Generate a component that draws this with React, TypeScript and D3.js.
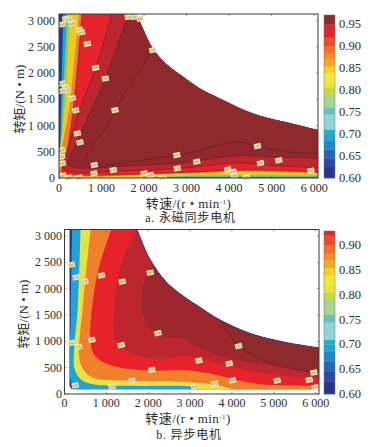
import React from "react";
import * as d3 from "d3";

type P = [number, number];
const FONT = '"Liberation Serif","Noto Sans CJK SC",serif';

const speedTicks = [0, 1000, 2000, 3000, 4000, 5000, 6000];
const torqueTicks = [0, 500, 1000, 1500, 2000, 2500, 3000];

// ---- a. PMSM: efficiency band boundaries (speed r/min, torque N·m)
const limitA: P[] = [[1700, 3300], [1866, 3037], [2203, 2470], [2480, 2200], [2965, 1900], [3320, 1700], [3740, 1530], [4540, 1235], [5320, 1065], [6090, 912]];
const aCyan: P[] = [[100, 3125], [40, 1000], [15, 100], [60, 10], [3000, 8], [6100, 8]];
const aGreen: P[] = [[190, 3125], [70, 1000], [25, 100], [100, 18], [3000, 22], [4200, 26], [6100, 25]];
const aYellow: P[] = [[260, 3125], [150, 1500], [40, 100], [150, 28], [3000, 45], [4200, 60], [6100, 44]];
const aOrange: P[] = [[470, 3125], [270, 1500], [50, 110], [200, 50], [3000, 90], [4200, 120], [6100, 95]];
const aRed: P[] = [[540, 3125], [360, 1500], [170, 420], [70, 120], [250, 70], [3000, 105], [4200, 150], [6100, 108]];
const aCrimson: P[] = [[1240, 3125], [862, 2098], [480, 1293], [230, 600], [110, 180], [400, 110], [1500, 135], [3000, 195], [4200, 290], [5000, 240], [6100, 196]];
const aMaroon: P[] = [[1630, 3125], [1090, 1896], [700, 1200], [400, 650], [220, 250], [500, 190], [1500, 225], [3000, 300], [4200, 430], [5000, 400], [6100, 380]];
const aInner: P[] = [[2297, 2530], [2203, 2435], [1317, 1293], [1160, 1040], [650, 437], [635, 310], [770, 247], [2770, 437], [2965, 456], [4200, 690], [4660, 608], [5320, 500], [6100, 470]];
const aLabels: P[] = [[78, 2929], [157, 3037], [235, 3018], [314, 2942], [478, 2828], [533, 2777], [666, 2555], [862, 2098], [1090, 1896], [1317, 1293], [392, 1287], [314, 1522], [204, 1674], [157, 1724], [70, 1800], [70, 1660], [431, 850], [494, 678], [831, 247], [823, 89], [1278, 152], [2000, 89], [2156, 57], [2430, 13], [2770, 437], [2783, 184], [3238, 311], [86, 44], [220, 6], [470, 6], [63, 406], [63, 530], [78, 280], [1630, 3068], [1772, 3068], [1905, 3037], [2203, 2435], [3969, 165], [4094, 120], [4118, 44], [4400, 13], [4667, 608], [4737, 285], [5169, 336], [5922, 139]];
const aLabelText = ["0.65", "0.70", "0.75", "0.80", "0.85", "0.85", "0.90", "0.93", "0.95", "0.97", "0.90", "0.85", "0.80", "0.75", "0.70", "0.65", "0.93", "0.95", "0.97", "0.93", "0.95", "0.90", "0.85", "0.75", "0.97", "0.93", "0.95", "0.80", "0.85", "0.85", "0.65", "0.70", "0.90", "0.93", "0.95", "0.95", "0.97", "0.93", "0.90", "0.85", "0.75", "0.97", "0.95", "0.95", "0.93"];

// ---- b. induction motor
const limitB: P[] = [[1600, 3350], [1730, 3125], [2032, 2572], [2430, 2128], [2868, 1842], [3227, 1652], [3664, 1429], [4462, 1143], [5258, 985], [6080, 876]];
const bCyan: P[] = [[183, 3125], [150, 1500], [143, 286], [279, 90], [1155, 70], [3000, 70]];
const bYellow: P[] = [[382, 3125], [319, 1683], [223, 730], [239, 476], [398, 273], [757, 175], [1634, 155], [2750, 155], [3100, 130], [3300, 70]];
const bOrange: P[] = [[622, 3125], [440, 1683], [350, 730], [438, 476], [677, 310], [1155, 260], [2032, 245], [3148, 215], [3664, 165], [4100, 70]];
const bRed: P[] = [[1116, 3125], [797, 2318], [638, 1492], [614, 1048], [717, 730], [1076, 552], [2032, 444], [2868, 450], [3267, 413], [3664, 355], [4064, 270], [4620, 190], [5258, 160], [6100, 150]];
const bCrimson: P[] = [[1730, 3125], [1395, 2572], [1195, 1683], [1155, 1238], [1235, 984], [1634, 762], [2271, 667], [2868, 718], [3267, 667], [3896, 547], [4852, 381], [6100, 305]];
const bMaroon: P[] = [[2112, 2476], [1873, 2064], [1873, 1492], [2032, 1238], [2430, 1080], [2868, 1048], [3107, 928], [3664, 737], [4852, 547], [6100, 451]];
const bInner: P[] = [[3705, 1429], [3896, 1175], [4160, 909], [4852, 604], [5975, 400], [6100, 380]];
const bLabels: P[] = [[167, 2457], [279, 2216], [486, 2134], [885, 2254], [1379, 2134], [2048, 2305], [175, 972], [335, 895], [654, 1029], [1355, 927], [2232, 1156], [2088, 457], [1610, 254], [1132, 140], [255, 165], [3108, 140], [3211, 636], [3585, 198], [4015, 261], [3936, 579], [4160, 909], [5082, 255], [5848, 267], [5992, 128], [5958, 408]];
const bLabelText = ["0.65", "0.70", "0.75", "0.80", "0.85", "0.90", "0.65", "0.75", "0.80", "0.85", "0.90", "0.85", "0.75", "0.70", "0.65", "0.70", "0.90", "0.75", "0.80", "0.85", "0.92", "0.80", "0.85", "0.75", "0.92"];

// ---- colorbar segments: lower value, upper value
const barLevels = [0.6, 0.625, 0.645, 0.665, 0.685, 0.7, 0.71, 0.745, 0.76, 0.79, 0.805, 0.82, 0.84, 0.855, 0.87, 0.885, 0.9, 0.92, 0.935, 0.95, 0.99];
const barColors = ["#2a3590", "#2a4aa5", "#2565b5", "#1e88c8", "#1aa5d5", "#20b0c8", "#8fd5d5", "#60c5c0", "#a5d590", "#c8d840", "#e8e43a", "#f2e83a", "#f5d020", "#f5a623", "#f58c28", "#f0702a", "#ee4a2a", "#e8242a", "#d8252b", "#8f2a2f"];

const NAVY = "#2a3590", CYAN = "#1fa5dc", GREEN = "#8cc870", YELLOW = "#eccb1e", YELLOW_B = "#e4e344", ORANGE = "#f0802c", RED = "#e8242a", CRIMSON = "#bd282e", MAROON = "#a0282d", INNER = "#8e2a2f";

interface PanelProps {
  id: string; x0: number; x1: number; xMax: number; y0: number; y1: number; limit: P[];
  envelope: (xs: d3.ScaleLinear<number, number>, ys: d3.ScaleLinear<number, number>, limitPath: string) => string;
  bands: { pts: P[]; fill: string; line?: boolean }[];
  labels: P[]; labelText: string[]; tickRight: number; tickBase: number;
  barTop: number; barBottom: number; barMax: number; barTicks: number[]; outline?: boolean;
}

function Panel(p: PanelProps) {
  const xs = d3.scaleLinear().domain([0, p.xMax]).range([p.x0, p.x1]);
  const ys = d3.scaleLinear().domain([0, 3125]).range([p.y0, p.y1]);
  const line = d3.line<P>().x(d => xs(d[0])).y(d => ys(d[1])).curve(d3.curveCatmullRom.alpha(0.5));
  const region = (pts: P[]) => {
    const last = pts[pts.length - 1];
    const right = xs(6300);
    return `${line(pts)}L${right},${ys(last[1])}L${right},${ys(3400)}L${xs(pts[0][0])},${ys(3400)}Z`;
  };
  const barY = d3.scaleLinear().domain([0.6, p.barMax]).range([p.barBottom, p.barTop]);
  const env = p.envelope(xs, ys, line(p.limit) ?? "M0,0");
  return (
    <g>
      <clipPath id={p.id}><path d={env} /></clipPath>
      <clipPath id={p.id + "F"}><rect x={p.x0} y={p.y1} width={p.x1 - p.x0} height={p.y0 - p.y1} /></clipPath>
      <g filter="url(#soft)">
        <g clipPath={`url(#${p.id}F)`}>
          <path d={env} fill={NAVY} />
          <g clipPath={`url(#${p.id})`}>
            {p.bands.map((b, i) => <path key={i} d={region(b.pts)} fill={b.fill} />)}
            {p.bands.filter(b => b.line).map((b, i) => <path key={i} d={line(b.pts) ?? ""} fill="none" stroke="#3c1518" strokeOpacity={0.65} strokeWidth={0.6} />)}
          </g>
          {p.outline && <path d={line(p.limit) ?? ""} fill="none" stroke="#3b3a92" strokeWidth={0.9} />}
        </g>
        {p.labels.map((l, i) => (
          <g key={i} transform={`translate(${xs(l[0])},${ys(l[1])}) rotate(-12)`}>
            <rect x={-3.5} y={-2.7} width={7} height={5.4} fill="#eee7ac" />
            <text textAnchor="middle" y={1.1} fontSize={3} fill="#555" fontFamily={FONT}>{p.labelText[i]}</text>
          </g>
        ))}
      </g>
      <rect x={p.x0} y={p.y1} width={p.x1 - p.x0} height={p.y0 - p.y1} fill="none" stroke="#3a3a3a" strokeWidth={1} />
      {speedTicks.map(t => (
        <g key={t}>
          <line x1={xs(t)} x2={xs(t)} y1={p.y0} y2={p.y0 - 2} stroke="#555" strokeWidth={0.6} />
          <line x1={xs(t)} x2={xs(t)} y1={p.y1} y2={p.y1 + 2} stroke="#555" strokeWidth={0.6} />
          <text x={xs(t)} y={p.tickBase} textAnchor="middle" fontSize={12} fill="#2e2e2e" fontFamily={FONT}>{d3.format(",")(t).replace(",", " ")}</text>
        </g>
      ))}
      {torqueTicks.map(t => (
        <g key={t}>
          <line x1={p.x0} x2={p.x0 + 2} y1={ys(t)} y2={ys(t)} stroke="#555" strokeWidth={0.6} />
          <line x1={p.x1} x2={p.x1 - 2} y1={ys(t)} y2={ys(t)} stroke="#555" strokeWidth={0.6} />
          <text x={p.tickRight} y={ys(t) + 4} textAnchor="end" fontSize={12} fill="#2e2e2e" fontFamily={FONT}>{d3.format(",")(t).replace(",", " ")}</text>
        </g>
      ))}
      <g filter="url(#soft)">
        {barColors.map((c, i) => {
          const top = Math.max(barY(barLevels[i + 1]), p.barTop);
          return <rect key={i} x={324} width={11} y={top} height={barY(barLevels[i]) - top + 0.3} fill={c} />;
        })}
      </g>
      <rect x={324} width={11} y={p.barTop} height={p.barBottom - p.barTop} fill="none" stroke="#777" strokeWidth={0.5} />
      {p.barTicks.map(t => (
        <text key={t} x={339} y={barY(t) + 4} fontSize={12.5} fill="#2e2e2e" fontFamily={FONT}>{t.toFixed(2)}</text>
      ))}
    </g>
  );
}

export default function App() {
  return (
    <svg width={385} height={447} style={{ position: "absolute", left: 0, top: 0, background: "#fff" }}>
      <defs>
        <filter id="soft" x="-2%" y="-2%" width="104%" height="104%"><feGaussianBlur stdDeviation={0.35} /></filter>
      </defs>
      <Panel id="clipA" x0={59} x1={318} xMax={6090} y0={178} y1={14} limit={limitA}
        envelope={(xs, ys, l) => `M${xs(0)},${ys(0)}L${xs(0)},${ys(3300)}L${l.slice(1)}L${xs(6090)},${ys(0)}Z`}
        bands={[
          { pts: aCyan, fill: CYAN }, { pts: aGreen, fill: GREEN }, { pts: aYellow, fill: YELLOW },
          { pts: aOrange, fill: ORANGE }, { pts: aRed, fill: RED, line: true }, { pts: aCrimson, fill: CRIMSON, line: true },
          { pts: aMaroon, fill: "#92282d", line: true }, { pts: aInner, fill: INNER, line: true },
        ]}
        labels={aLabels} labelText={aLabelText} tickRight={55} tickBase={192}
        barTop={15} barBottom={178} barMax={0.971} barTicks={[0.6, 0.65, 0.7, 0.75, 0.8, 0.85, 0.9, 0.95]} />
      <Panel id="clipB" x0={64.5} x1={319} xMax={6080} y0={394} y1={229.5} limit={limitB} outline
        envelope={(xs, ys, l) => `M${xs(170)},${ys(90)}L${xs(120)},${ys(150)}L${xs(120)},${ys(3350)}L${l.slice(1)}L${xs(6080)},${ys(90)}Z`}
        bands={[
          { pts: bCyan, fill: CYAN }, { pts: bYellow, fill: YELLOW_B }, { pts: bOrange, fill: ORANGE },
          { pts: bRed, fill: RED }, { pts: bCrimson, fill: CRIMSON }, { pts: bMaroon, fill: MAROON }, { pts: bInner, fill: INNER, line: true },
        ]}
        labels={bLabels} labelText={bLabelText} tickRight={62} tickBase={407}
        barTop={231} barBottom={394} barMax={0.929} barTicks={[0.6, 0.65, 0.7, 0.75, 0.8, 0.85, 0.9]} />

      <g fontFamily={FONT} fill="#2e2e2e">
        <text transform="translate(24,99) rotate(-90)" textAnchor="middle" fontSize={13}>转矩/(N • m)</text>
        <text transform="translate(28,314) rotate(-90)" textAnchor="middle" fontSize={13}>转矩/(N • m)</text>
        <text x={188.5} y={208} textAnchor="middle" fontSize={13} letterSpacing={0.4}>转速/(r • min<tspan dy={-4} fontSize={7}>-1</tspan><tspan dy={4}>)</tspan></text>
        <text x={188} y={423} textAnchor="middle" fontSize={13} letterSpacing={0.4}>转速/(r • min<tspan dy={-4} fontSize={7}>-1</tspan><tspan dy={4}>)</tspan></text>
        <text x={190.5} y={222} textAnchor="middle" fontSize={12} letterSpacing={0.8}>a. 永磁同步电机</text>
        <text x={189} y={439} textAnchor="middle" fontSize={12} letterSpacing={0.8}>b. 异步电机</text>
      </g>
    </svg>
  );
}
